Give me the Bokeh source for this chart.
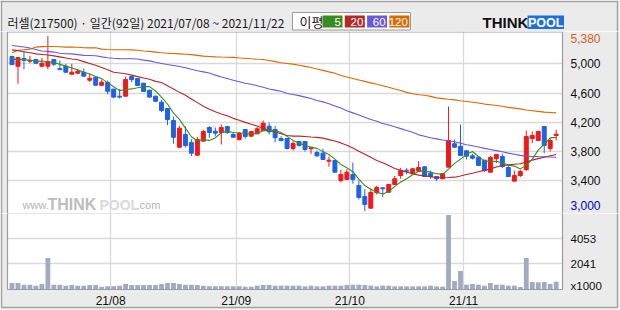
from bokeh.plotting import figure
from bokeh.models import Range1d, FixedTicker, Label
from bokeh.layouts import column
from bokeh.embed import file_html
from bokeh.resources import INLINE
from bokeh.core.properties import value

# ---------------- data ----------------
title_text = "러셀(217500) · 일간(92일) 2021/07/08 ~ 2021/11/22"
legend_title = "이평"
ma_labels = ["5", "20", "60", "120"]
ma_colors = ["#3A8C1E", "#B42828", "#6A5AD8", "#D86A00"]

month_labels = ["21/08", "21/09", "21/10", "21/11"]
month_first_index = [17, 38, 57, 76]

price_ticks = [3400, 3800, 4200, 4600, 5000]
price_max_label = 5380
price_min_label = 3000
volume_ticks = [0, 2041, 4053]
volume_unit = "x1000"

opens = [5100, 4967, 5072, 5035, 5059, 4967, 4967, 5059, 4934, 4967,
         4858, 4872, 4885, 4776, 4817, 4707, 4744, 4654, 4558, 4558,
         4825, 4799, 4735, 4640, 4558, 4476, 4389, 4225, 3861, 4035,
         3926, 3752, 3944, 4130, 4080, 4062, 4144, 4035, 3967, 4103,
         4012, 4044, 4089, 4148, 4103, 3980, 3980, 3844, 3939, 3939,
         3840, 3789, 3780, 3670, 3680, 3407, 3421, 3489, 3339, 3189,
         3029, 3239, 3307, 3247, 3352, 3475, 3547, 3498, 3534, 3594,
         3507, 3461, 3430, 3589, 3908, 3875, 3812, 3744, 3725, 3684,
         3520, 3703, 3734, 3584, 3398, 3475, 3553, 3980, 3953, 4144,
         3844, 4021]
highs = [5110, 5090, 5172, 5109, 5065, 5081, 5380, 5065, 5045, 5000,
         5000, 4917, 4936, 4866, 4825, 4784, 4771, 4660, 4654, 4825,
         4830, 4805, 4740, 4645, 4565, 4509, 4395, 4280, 4153, 4144,
         3971, 4003, 4099, 4148, 4130, 4171, 4144, 4062, 4066, 4103,
         4085, 4139, 4226, 4198, 4153, 4010, 3985, 3943, 3940, 3945,
         3861, 3816, 3840, 3734, 3685, 3553, 3562, 3653, 3407, 3288,
         3298, 3335, 3311, 3360, 3471, 3580, 3575, 3575, 3670, 3600,
         3543, 3465, 3505, 4417, 3966, 4171, 3815, 3771, 3730, 3690,
         3744, 3766, 3771, 3625, 3543, 3553, 4089, 4076, 4089, 4146,
         3984, 4099]
lows = [4980, 4727, 4926, 5008, 5000, 4954, 4926, 4967, 4917, 4872,
        4850, 4858, 4825, 4754, 4700, 4694, 4584, 4530, 4526, 4550,
        4749, 4700, 4615, 4540, 4475, 4339, 4162, 3908, 3853, 3857,
        3739, 3745, 3940, 3990, 4008, 3898, 4040, 3990, 3953, 3980,
        4005, 4040, 4080, 4035, 3930, 3940, 3830, 3816, 3870, 3803,
        3771, 3725, 3690, 3594, 3515, 3380, 3415, 3362, 3148, 2988,
        3025, 3216, 3179, 3240, 3348, 3430, 3489, 3495, 3530, 3455,
        3430, 3398, 3425, 3585, 3858, 3745, 3694, 3694, 3605, 3525,
        3515, 3643, 3575, 3455, 3395, 3452, 3543, 3916, 3950, 3780,
        3803, 3953]
closes = [4990, 5086, 5049, 5045, 5008, 5008, 5031, 4995, 4920, 4885,
          4885, 4899, 4831, 4803, 4707, 4748, 4625, 4545, 4545, 4784,
          4784, 4704, 4622, 4545, 4489, 4362, 4239, 3996, 4121, 3885,
          3780, 3967, 4076, 4062, 4053, 4130, 4062, 3998, 4048, 4008,
          4076, 4112, 4189, 4071, 3990, 3953, 3844, 3912, 3885, 3830,
          3853, 3744, 3694, 3684, 3520, 3489, 3520, 3421, 3175, 3080,
          3243, 3311, 3294, 3352, 3430, 3543, 3534, 3566, 3584, 3461,
          3461, 3430, 3502, 3953, 3861, 3748, 3739, 3711, 3612, 3543,
          3721, 3762, 3598, 3461, 3475, 3530, 4007, 4021, 4076, 3885,
          3953, 4039]
volumes = [515, 515, 383, 383, 304, 436, 2495, 383, 383, 304,
           356, 304, 304, 356, 356, 224, 251, 251, 304, 436,
           356, 356, 356, 356, 356, 436, 515, 515, 436, 383,
           383, 356, 304, 251, 251, 251, 251, 251, 251, 224,
           224, 304, 356, 356, 304, 304, 304, 304, 304, 251,
           304, 251, 251, 304, 304, 304, 356, 383, 383, 356,
           304, 251, 304, 304, 251, 251, 251, 251, 251, 251,
           304, 251, 224, 5900, 673, 1465, 383, 436, 383, 304,
           515, 383, 383, 304, 304, 198, 2495, 594, 568, 594,
           436, 620]
ma5 = [5060, 5058, 5055, 5050, 5035, 5038, 5027, 5017, 4992, 4968,
       4943, 4917, 4884, 4861, 4825, 4798, 4743, 4686, 4634, 4649,
       4657, 4672, 4688, 4688, 4629, 4544, 4451, 4326, 4241, 4121,
       4004, 3950, 3966, 3954, 3988, 4058, 4077, 4061, 4058, 4049,
       4038, 4048, 4087, 4091, 4088, 4063, 4009, 3954, 3917, 3885,
       3865, 3845, 3801, 3761, 3699, 3626, 3581, 3527, 3425, 3337,
       3288, 3246, 3221, 3256, 3326, 3386, 3431, 3485, 3531, 3538,
       3521, 3500, 3488, 3561, 3641, 3699, 3761, 3802, 3734, 3671,
       3665, 3670, 3647, 3617, 3603, 3565, 3614, 3699, 3822, 3904,
       3988, 3995]
ma20 = [5190, 5180, 5165, 5150, 5135, 5128, 5120, 5108, 5095, 5080,
        5065, 5055, 5030, 5005, 4980, 4950, 4920, 4885, 4875, 4865,
        4845, 4825, 4805, 4788, 4760, 4745, 4700, 4655, 4610, 4570,
        4520, 4470, 4420, 4380, 4345, 4315, 4290, 4255, 4230, 4200,
        4175, 4150, 4120, 4090, 4070, 4045, 4020, 4012, 4012, 4008,
        4000, 3995, 3985, 3965, 3945, 3920, 3888, 3850, 3805, 3765,
        3725, 3680, 3650, 3610, 3570, 3545, 3520, 3500, 3480, 3470,
        3460, 3445, 3445, 3448, 3452, 3468, 3488, 3505, 3525, 3545,
        3565, 3590, 3610, 3620, 3628, 3635, 3660, 3685, 3705, 3725,
        3745, 3762]
ma60 = [5250, 5240, 5230, 5215, 5195, 5175, 5170, 5160, 5145, 5137,
        5135, 5125, 5115, 5113, 5110, 5095, 5082, 5075, 5070, 5068,
        5068, 5065, 5050, 5040, 5020, 5005, 4990, 4977, 4962, 4945,
        4925, 4905, 4890, 4875, 4845, 4820, 4800, 4775, 4755, 4735,
        4720, 4700, 4680, 4655, 4640, 4625, 4595, 4580, 4565, 4545,
        4525, 4500, 4480, 4455, 4425, 4395, 4360, 4330, 4300, 4270,
        4240, 4215, 4185, 4165, 4140, 4115, 4090, 4065, 4030, 4010,
        3990, 3975, 3960, 3950, 3935, 3915, 3895, 3880, 3865, 3845,
        3830, 3815, 3800, 3780, 3765, 3750, 3740, 3735, 3732, 3730,
        3728, 3725]
ma120 = [5150, 5185, 5192, 5200, 5228, 5235, 5236, 5236, 5232, 5228,
         5227, 5226, 5220, 5218, 5218, 5200, 5195, 5192, 5191, 5191,
         5190, 5185, 5175, 5170, 5160, 5150, 5145, 5140, 5135, 5130,
         5125, 5115, 5105, 5100, 5095, 5092, 5090, 5088, 5080, 5075,
         5068, 5062, 5059, 5045, 5030, 5015, 5005, 4995, 4980, 4965,
         4950, 4930, 4910, 4890, 4870, 4840, 4820, 4800, 4780, 4760,
         4740, 4720, 4700, 4680, 4655, 4635, 4610, 4590, 4578, 4570,
         4555, 4535, 4525, 4515, 4507, 4495, 4485, 4475, 4465, 4450,
         4440, 4430, 4420, 4405, 4395, 4385, 4370, 4360, 4350, 4340,
         4335, 4330]

# ---------------- layout constants (pixels) ----------------
W = 620
BG = "#EBEBEB"
FRAME = "#9C9C9C"
OUTER = "#A2A2A2"
GRID = "#D9D9D9"
UP = "#F01818"
DOWN = "#1E62E6"
VOL = "#A2AAC2"
NUM_FONT = "Liberation Sans"
X0, DX = 11.5, 5.98          # pixel of first candle, pixels per trading day
PANEL_L, PANEL_R = 7, 562    # panel pixel edges
LABEL_X = 570                # right-side label left edge
OUTER_R, OUTER_B = 617, 307  # outer frame pixels


def xd(px):
    return (px - X0) / DX


x_range = Range1d(xd(0), xd(W))
xl, xr = xd(PANEL_L), xd(PANEL_R)

idx = list(range(len(closes)))
candle_colors = [UP if c >= o else DOWN for o, c in zip(opens, closes)]
month_grid = [m - 0.5 for m in month_first_index]


def base_fig(h, yr):
    f = figure(width=W, height=h, x_range=x_range, y_range=yr,
               x_axis_location=None, y_axis_location=None, min_border=0,
               output_backend="svg", toolbar_location=None)
    f.background_fill_color = "white"
    f.border_fill_color = BG
    f.outline_line_color = None
    return f


# ---------------- header ----------------
hdr = figure(width=W, height=31, x_range=Range1d(0, W), y_range=Range1d(31, 0),
             x_axis_location=None, y_axis_location=None, min_border=0,
             output_backend="svg", toolbar_location=None)
hdr.grid.visible = False
hdr.background_fill_color = BG
hdr.border_fill_color = BG
hdr.outline_line_color = None
hdr.quad(left=[OUTER_R + 0.8], right=[W], top=[0], bottom=[31], fill_color="#F4F4F4", line_color=None)
hdr.segment(x0=[0, 1, OUTER_R], y0=[1, 0, 0], x1=[OUTER_R, 1, OUTER_R], y1=[1, 31, 31],
            line_color=OUTER, line_width=1.5)

hdr.text(x=[7], y=[21.5], text=[title_text], text_font=value("Noto Sans CJK KR"),
         text_font_size="12px", text_color="#1A1A1A", text_baseline="middle", text_align="left")
hdr.quad(left=[292], right=[410], top=[12], bottom=[29.5], fill_color="white", line_color="#9A9A9A")
hdr.text(x=[299], y=[21], text=[legend_title], text_font=value("Noto Sans CJK KR"),
         text_font_size="13px", text_color="#1A1A1A", text_baseline="middle", text_align="left")
box_left = [322 + k * 22.3 for k in range(len(ma_labels))]
box_right = [b + 20 for b in box_left]
hdr.quad(left=box_left, right=box_right, top=[15] * 4, bottom=[27] * 4, fill_color=ma_colors, line_color=None)
hdr.text(x=[r - 1.5 for r in box_right], y=[21.5] * 4, text=ma_labels, text_font=value(NUM_FONT),
         text_font_size="11.5px", text_color="white", text_baseline="middle", text_align="right")
# logo
hdr.text(x=[482], y=[22], text=["THINK"], text_font=value("Liberation Sans"), text_font_style="bold",
         text_font_size="15px", text_color="#111111", text_baseline="middle", text_align="left")
hdr.quad(left=[527], right=[563.5], top=[15], bottom=[28.5], fill_color="#1F6FDB", line_color=None)
hdr.text(x=[545.2], y=[22], text=["POOL"], text_font=value("Liberation Sans"), text_font_style="bold",
         text_font_size="12.5px", text_color="white", text_baseline="middle", text_align="center")

# ---------------- price panel ----------------
P_TOP, P_BOT = 5441, 2956            # price at panel top (px 31) / bottom (px 213)
P_PX = (P_TOP - P_BOT) / 182.0       # price per pixel
p = base_fig(182, Range1d(P_BOT, P_TOP))
p.xgrid.ticker = FixedTicker(ticks=month_grid)
p.ygrid.ticker = FixedTicker(ticks=price_ticks)
p.ygrid.bounds = (xl, xr)
for g in (p.xgrid, p.ygrid):
    g.grid_line_color = GRID
    g.grid_line_width = 1.3

# watermark
wm = [("www.", 22, "11px", "normal", "#B4B4B4"),
      ("THINK", 47, "16px", "bold", "#BDBDBD"),
      ("POOL", 99, "14px", "bold", "#DADADA"),
      (".com", 136, "11px", "normal", "#B4B4B4")]
for t, xx, fs, st, col in wm:
    p.add_layout(Label(x=xx, y=9, x_units="screen", y_units="screen", text=t, text_font="Liberation Sans",
                       text_font_size=fs, text_font_style=st, text_color=col, text_baseline="middle"))

p.segment(x0=idx, y0=lows, x1=idx, y1=highs, line_color=candle_colors, line_width=1)
p.vbar(x=idx, width=0.66, top=opens, bottom=closes, fill_color=candle_colors,
       line_color=candle_colors, line_width=1)
for ma, col in zip([ma120, ma60, ma20, ma5], [ma_colors[3], ma_colors[2], ma_colors[1], ma_colors[0]]):
    p.line(idx, ma, line_color=col, line_width=1.1)

# margins, frame, outer border
p.quad(left=[xd(0)], right=[xl], top=[P_TOP], bottom=[P_BOT], fill_color=BG, line_color=None)
p.quad(left=[xr], right=[xd(W)], top=[P_TOP], bottom=[P_BOT], fill_color=BG, line_color=None)
p.quad(left=[xd(OUTER_R + 0.8)], right=[xd(W)], top=[P_TOP], bottom=[P_BOT], fill_color="#F4F4F4", line_color=None)
p.quad(left=[xl], right=[xr], top=[P_TOP - 0.5 * P_PX], bottom=[P_BOT - 5], fill_color=None,
       line_color=FRAME, line_width=1.2)
p.segment(x0=[xd(1), xd(OUTER_R)], y0=[P_BOT, P_BOT], x1=[xd(1), xd(OUTER_R)], y1=[P_TOP, P_TOP],
          line_color=OUTER, line_width=1.5)

plab_vals = [price_max_label] + price_ticks + [price_min_label]
plab_text = [f"{v:,}" for v in plab_vals]
plab_col = ["#C8641E"] + ["#111111"] * len(price_ticks) + ["#0000C8"]
plab_off = [2.5] + [0] * len(price_ticks) + [-4.5]
p.text(x=[xd(LABEL_X)] * len(plab_vals), y=plab_vals, text=plab_text, text_color=plab_col,
       y_offset=plab_off, text_font=value(NUM_FONT), text_font_size="12px",
       text_baseline="middle", text_align="left")

# ---------------- volume panel ----------------
V_PX = 6020 / 76.0                     # volume per pixel (zero at px 289, top px 213)
V_TOP = 6020
V_BOT = V_TOP - 97 * V_PX
v = base_fig(97, Range1d(V_BOT, V_TOP))
v.xgrid.ticker = FixedTicker(ticks=month_grid)
v.xgrid.bounds = (0, V_TOP)
v.ygrid.ticker = FixedTicker(ticks=volume_ticks[1:])
v.ygrid.bounds = (xl, xr)
for g in (v.xgrid, v.ygrid):
    g.grid_line_color = GRID
    g.grid_line_width = 1.3

v.vbar(x=idx, width=0.8, top=volumes, bottom=0, fill_color=VOL, line_color=None)

v.quad(left=[xd(0)], right=[xl], top=[V_TOP], bottom=[V_BOT], fill_color=BG, line_color=None)
v.quad(left=[xr], right=[xd(W)], top=[V_TOP], bottom=[V_BOT], fill_color=BG, line_color=None)
v.quad(left=[xd(0)], right=[xd(W)], top=[0], bottom=[V_BOT], fill_color=BG, line_color=None)
v.quad(left=[xd(OUTER_R + 0.8)], right=[xd(W)], top=[V_TOP], bottom=[V_BOT], fill_color="#F4F4F4", line_color=None)
v.quad(left=[xd(0)], right=[xd(W)], top=[V_TOP - (OUTER_B - 213 + 0.8) * V_PX], bottom=[V_BOT],
       fill_color="#F4F4F4", line_color=None)
v.quad(left=[xl], right=[xr], top=[V_TOP + 0.5 * V_PX], bottom=[0], fill_color=None,
       line_color=FRAME, line_width=1.2)
yb = V_TOP - (OUTER_B - 213) * V_PX
v.segment(x0=[xd(1), xd(OUTER_R), xd(1)], y0=[V_TOP, V_TOP, yb], x1=[xd(1), xd(OUTER_R), xd(OUTER_R)],
          y1=[yb, yb, yb], line_color=OUTER, line_width=1.5)

vlab_text = [volume_unit] + [str(t) for t in volume_ticks[1:]]
vlab_off = [-4, 0, 0.5]
v.text(x=[xd(LABEL_X)] * len(volume_ticks), y=volume_ticks, text=vlab_text, y_offset=vlab_off,
       text_color="#111111", text_font=value(NUM_FONT), text_font_size="11.5px",
       text_baseline="middle", text_align="left")

date_y = V_TOP - (300 - 213) * V_PX
v.text(x=month_grid, y=[date_y] * len(month_grid), text=month_labels, text_color="#111111",
       text_font=value(NUM_FONT), text_font_size="12px", text_baseline="middle", text_align="center")

layout = column(hdr, p, v, spacing=0)
open("out.html", "w").write(file_html(layout, INLINE))
